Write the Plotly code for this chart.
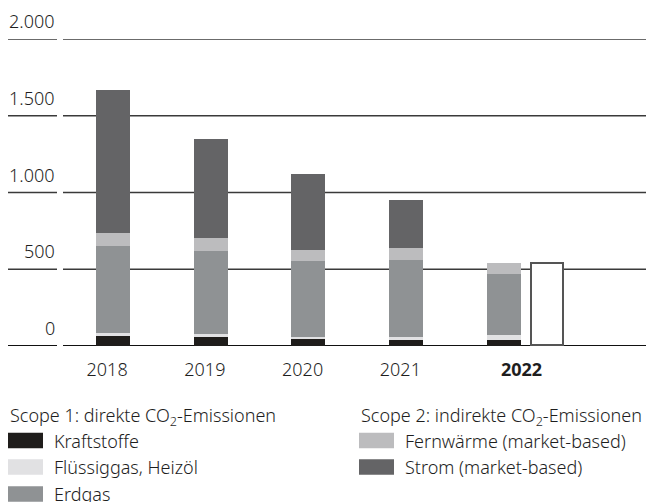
import plotly.graph_objects as go

# ---- data ----
years = ["2018", "2019", "2020", "2021", "2022"]
kraftstoffe = [65, 58, 52, 39, 39]
fluessiggas = [19, 20, 6, 19, 32]
erdgas = [565, 539, 494, 500, 397]
fernwaerme = [85, 84, 71, 78, 71]
strom = [935, 650, 500, 312, 0]
target_2022 = [532]

series_names = ["Kraftstoffe", "Flüssiggas, Heizöl", "Erdgas",
                "Fernwärme (market-based)", "Strom (market-based)"]
series_values = [kraftstoffe, fluessiggas, erdgas, fernwaerme, strom]
series_colors = ["#1f1d1b", "#e1e1e3", "#8f9294", "#bcbcbe", "#646466"]
scope_groups = [("Scope 1: direkte CO<sub>2</sub>-Emissionen", [0, 1, 2]),
                ("Scope 2: indirekte CO<sub>2</sub>-Emissionen", [3, 4])]

y_ticks = [0, 500, 1000, 1500, 2000]
y_tick_labels = ["0", "500", "1.000", "1.500", "2.000"]

# ---- geometry helpers (pixel layout) ----
W, H = 646, 502
PL, PR, PT, PB = 63, 646, 39, 346
def px(x):
    return (x - PL) / (PR - PL)
def py(y):
    return (PB - y) / (PB - PT)

FONT = "Noto Sans"
TXT = "#1e1e1e"
FS = 18
FW = 300

xpos = list(range(len(years)))
fig = go.Figure()
for name, vals, col in zip(series_names, series_values, series_colors):
    fig.add_trace(go.Bar(x=xpos, y=vals, name=name, marker_color=col,
                         marker_line_width=0, width=0.348, showlegend=False))

fig.add_trace(go.Bar(x=[4.45], y=target_2022, width=0.325, base=0,
                     marker=dict(color="white", line=dict(color="#555555", width=1.6)),
                     showlegend=False))

tick_x = [i - 0.06 for i in xpos[:-1]] + [4.18]
tick_text = years[:-1] + ["<b>" + years[-1] + "</b>"]

fig.update_layout(
    width=W, height=H, barmode="stack", bargap=0,
    margin=dict(l=PL, r=W - PR, t=PT, b=H - PB),
    plot_bgcolor="white", paper_bgcolor="white",
    font=dict(family=FONT, size=FS, color=TXT, weight=FW),
    xaxis=dict(range=[-0.5115, 5.453], tickvals=tick_x, ticktext=tick_text,
               showgrid=False, zeroline=False, showline=False,
               ticks="outside", ticklen=7, tickcolor="rgba(0,0,0,0)",
               tickfont=dict(family=FONT, size=FS, color=TXT, weight=FW)),
    yaxis=dict(range=[0, 2000], showgrid=False, zeroline=False,
               showticklabels=False, showline=False),
)

# gridlines with labels above, separated by a small gap
for v, lab in zip(y_ticks, y_tick_labels):
    col = "#111111" if v == 0 else "#3a3a3a"
    w = 2 if v == 0 else 1.5
    fig.add_shape(type="line", xref="paper", yref="y", x0=px(8), x1=px(57),
                  y0=v, y1=v, line=dict(color=col, width=w), layer="below")
    fig.add_shape(type="line", xref="paper", yref="y", x0=0, x1=1,
                  y0=v, y1=v, line=dict(color=col, width=w), layer="below")
    fig.add_annotation(xref="paper", yref="y", x=px(57), y=v, text=lab,
                       xanchor="right", yanchor="middle", yshift=18,
                       showarrow=False,
                       font=dict(family=FONT, size=FS, color=TXT, weight=FW))

# legend (custom two-column layout)
col_x = [8, 359]
row_y = [440.5, 467, 494]
for (header, idxs), cx in zip(scope_groups, col_x):
    fig.add_annotation(xref="paper", yref="paper", x=px(cx), y=py(416),
                       text=header, xanchor="left", yanchor="middle",
                       showarrow=False,
                       font=dict(family=FONT, size=FS, color=TXT, weight=FW))
    for r, i in enumerate(idxs):
        cy = row_y[r]
        fig.add_shape(type="rect", xref="paper", yref="paper",
                      x0=px(cx), x1=px(cx + 35), y0=py(cy - 7.75), y1=py(cy + 7.75),
                      fillcolor=series_colors[i], line=dict(width=0))
        fig.add_annotation(xref="paper", yref="paper", x=px(cx + 44), y=py(cy),
                           text=series_names[i], xanchor="left", yanchor="middle",
                           showarrow=False,
                           font=dict(family=FONT, size=FS, color=TXT, weight=FW))

fig.write_html("out.html")
